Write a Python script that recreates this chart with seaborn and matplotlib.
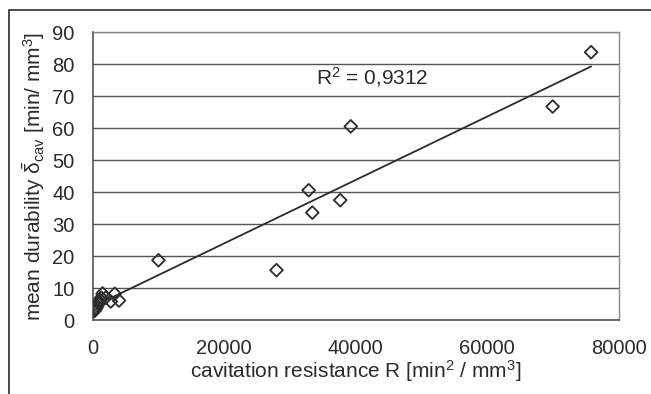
import numpy as np
import pandas as pd
import matplotlib
matplotlib.use('Agg')
import matplotlib.pyplot as plt
import seaborn as sns
from matplotlib.patches import Rectangle

# values
resistance = [250, 400, 550, 700, 850, 1000, 1150, 1300, 1500, 2000, 2750, 3350, 4000,
              10000, 27950, 32850, 33400, 37650, 39250, 69950, 75800]
durability = [2.8, 3.3, 3.8, 4.4, 5.0, 5.7, 6.3, 7.0, 8.3, 7.0, 5.8, 8.2, 6.1,
              18.7, 15.6, 40.6, 33.6, 37.5, 60.6, 66.8, 83.8]
r2_text = 'R$^2$ = 0,9312'

df = pd.DataFrame({'R': resistance, 'dur': durability})

sns.set_style('white')
plt.rcParams['font.family'] = ['Liberation Sans', 'DejaVu Sans']
plt.rcParams['mathtext.fontset'] = 'custom'
plt.rcParams['mathtext.rm'] = 'Liberation Sans'
plt.rcParams['mathtext.it'] = 'Liberation Sans'

ink = '#2b2b2b'
fig = plt.figure(figsize=(6.51, 3.94), dpi=100)
ax = fig.add_axes([0.1424, 0.1878, 0.808, 0.730])

# outer frame of the chart object
fig.patches.append(Rectangle((9 / 651, -0.1), 1.2, 1 - 10 / 394 + 0.1, transform=fig.transFigure,
                             fill=False, edgecolor=ink, linewidth=1.2))

sns.regplot(data=df, x='R', y='dur', ax=ax, ci=None, scatter=False,
            line_kws={'color': ink, 'linewidth': 1.3})
sns.scatterplot(data=df, x='R', y='dur', ax=ax, marker='D', s=42,
                facecolor='none', edgecolor=ink, linewidth=1.3, zorder=3)

ax.set_xlim(0, 80000)
ax.set_ylim(0, 90)
ax.set_xticks(np.arange(0, 80001, 20000))
ax.set_yticks(np.arange(0, 91, 10))
ax.yaxis.grid(True, color='#555555', linewidth=1.0)
ax.set_axisbelow(True)
for side in ['top', 'right']:
    ax.spines[side].set_color('#8a8a8a')
    ax.spines[side].set_linewidth(1.0)
for side in ['left', 'bottom']:
    ax.spines[side].set_color('#555555')
    ax.spines[side].set_linewidth(1.2)
ax.tick_params(axis='both', direction='out', length=5, width=1.0, color='#555555',
               labelsize=14.5, labelcolor=ink)
ax.tick_params(axis='y', pad=8)
ax.tick_params(axis='x', pad=9)

ax.set_xlabel('cavitation resistance R [min$^2$ / mm$^3$]', fontsize=15, color=ink, labelpad=0)
ax.set_ylabel(r'mean durability $\bar{\delta}_{cav}$ [min/ mm$^3$]', fontsize=15, color=ink, labelpad=4)

ax.text(33900, 73.8, r2_text, fontsize=15, color=ink, va='baseline')

fig.savefig('out.png', dpi=100)
